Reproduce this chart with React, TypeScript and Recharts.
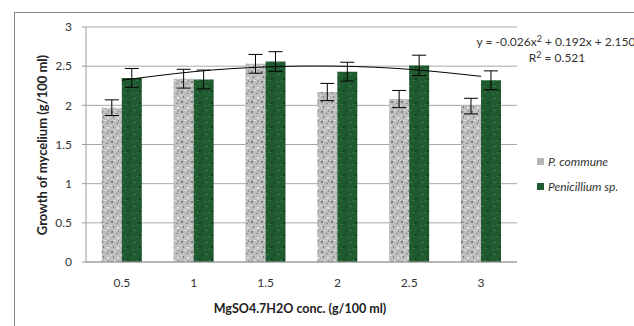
import React from "react";
import { ComposedChart, Bar, Line, XAxis, YAxis, CartesianGrid, ErrorBar } from "recharts";

const categories = ["0.5", "1", "1.5", "2", "2.5", "3"];
const pCommune = [1.97, 2.34, 2.53, 2.17, 2.08, 1.99];
const pCommuneErr = [0.1, 0.12, 0.12, 0.11, 0.11, 0.1];
const penicillium = [2.35, 2.33, 2.56, 2.43, 2.51, 2.32];
const penicilliumErr = [0.12, 0.12, 0.125, 0.12, 0.13, 0.12];
const trend = [2.32, 2.43, 2.49, 2.5, 2.46, 2.37];
const yTicks = [0, 0.5, 1, 1.5, 2, 2.5, 3];

const data = categories.map((c, i) => ({
  cat: c,
  pc: pCommune[i],
  pcErr: pCommuneErr[i],
  pen: penicillium[i],
  penErr: penicilliumErr[i],
  trend: trend[i],
}));

const FONT = "Lato, 'Open Sans', sans-serif";

const YTitle = () => (
  <text
    x={42}
    y={145}
    transform="rotate(-90 42 145)"
    textAnchor="middle"
    dominantBaseline="central"
    fontFamily={FONT}
    fontSize={13}
    fontWeight={700}
    fill="#222"
  >
    Growth of mycelium  (g/100 ml)
  </text>
);

const XTitle = () => (
  <text x={300} y={308} textAnchor="middle" dominantBaseline="central" fontFamily={FONT} fontSize={12.5} fontWeight={700} fill="#222">
    MgSO4.7H2O conc.  (g/100 ml)
  </text>
);

export default function App() {
  return (
    <div style={{ position: "fixed", left: 0, top: 0, width: 634, height: 326, background: "#fff", overflow: "hidden" }}>
      <div style={{ position: "absolute", left: 14, top: 12, width: 640, height: 340, border: "1px solid #8a8a8a" }} />
      <div style={{ position: "absolute", left: 0, top: 0 }}>
        <ComposedChart
          width={634}
          height={326}
          data={data}
          margin={{ top: 27, right: 117, bottom: 34, left: 0 }}
          barCategoryGap="22%"
          barGap={0}
        >
          <defs>
            <pattern id="grayTex" width="10" height="10" patternUnits="userSpaceOnUse">
              <rect width="10" height="10" fill="#bdbdbd" />
              <rect x="1" y="1" width="2" height="2" fill="#7d7d7d" />
              <rect x="6" y="3" width="2" height="1" fill="#8a8a8a" />
              <rect x="3" y="6" width="1" height="2" fill="#767676" />
              <rect x="7" y="7" width="2" height="2" fill="#e4e4e4" />
              <rect x="4" y="0" width="2" height="1" fill="#e0e0e0" />
              <rect x="0" y="5" width="2" height="1" fill="#dcdcdc" />
              <rect x="8" y="0" width="1" height="2" fill="#909090" />
            </pattern>
            <pattern id="greenTex" width="12" height="12" patternUnits="userSpaceOnUse">
              <rect width="12" height="12" fill="#1f5a30" />
              <rect x="1" y="2" width="3" height="1" fill="#3b7a4c" />
              <rect x="7" y="6" width="2" height="2" fill="#14401f" />
              <rect x="4" y="8" width="3" height="1" fill="#2f6e40" />
              <rect x="9" y="1" width="1" height="3" fill="#17482a" />
              <rect x="0" y="9" width="2" height="2" fill="#2a6a3b" />
            </pattern>
          </defs>
          <CartesianGrid vertical={false} stroke="#a8a8a8" strokeWidth={1} />
          <XAxis
            dataKey="cat"
            height={30}
            stroke="#9a9a9a"
            tickLine={false}
            tickSize={0}
            tickMargin={16}
            tick={{ fill: "#333", fontSize: 12, fontFamily: FONT }}
          />
          <YAxis
            width={86}
            domain={[0, 3]}
            ticks={yTicks}
            stroke="#9a9a9a"
            tickSize={4}
            tickMargin={10}
            tick={{ fill: "#333", fontSize: 12, fontFamily: FONT }}
          />
          <Bar dataKey="pc" name="P. commune" fill="url(#grayTex)" isAnimationActive={false}>
            <ErrorBar dataKey="pcErr" width={7} stroke="#000" strokeWidth={1} />
          </Bar>
          <Bar dataKey="pen" name="Penicillium sp." fill="url(#greenTex)" isAnimationActive={false}>
            <ErrorBar dataKey="penErr" width={7} stroke="#000" strokeWidth={1} />
          </Bar>
          <Line
            dataKey="trend"
            type="natural"
            stroke="#000"
            strokeWidth={1}
            dot={false}
            activeDot={false}
            isAnimationActive={false}
            legendType="none"
          />
          <YTitle />
          <XTitle />
          <text x={556} y={46} textAnchor="middle" fontFamily={FONT} fontSize={12} fill="#333">
            y = -0.026x<tspan dy={-4} fontSize={9}>2</tspan><tspan dy={4}> + 0.192x + 2.150</tspan>
          </text>
          <text x={557} y={62} textAnchor="middle" fontFamily={FONT} fontSize={12} fill="#333">
            R<tspan dy={-4} fontSize={9}>2</tspan><tspan dy={4}> = 0.521</tspan>
          </text>
        </ComposedChart>
      </div>
      <div style={{ position: "absolute", left: 537, top: 154, fontFamily: FONT, fontSize: 12, fontStyle: "italic", color: "#333" }}>
        <div style={{ display: "flex", alignItems: "center", height: 15, marginBottom: 10 }}>
          <span style={{ display: "inline-block", width: 7, height: 7, background: "#b5b5b5", marginRight: 4 }} />
          P. commune
        </div>
        <div style={{ display: "flex", alignItems: "center", height: 15 }}>
          <span style={{ display: "inline-block", width: 7, height: 7, background: "#1f5a30", marginRight: 4 }} />
          Penicillium sp.
        </div>
      </div>
    </div>
  );
}
